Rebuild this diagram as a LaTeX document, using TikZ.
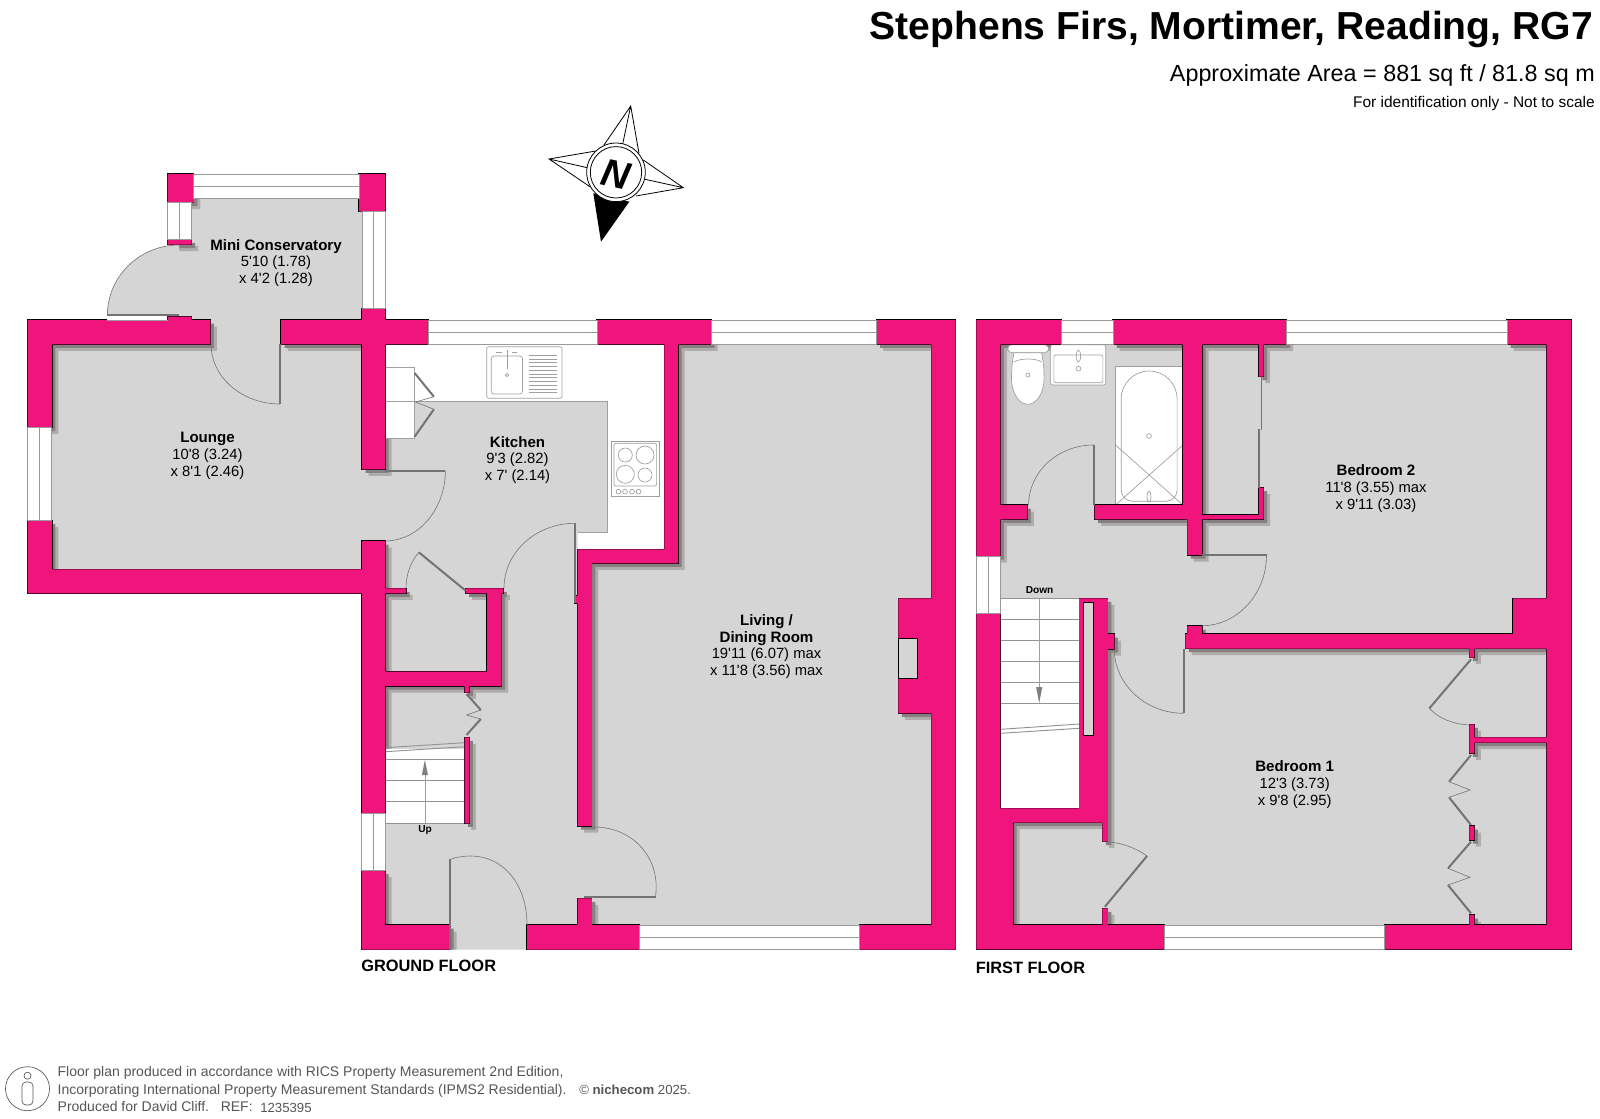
\documentclass[tikz,border=0pt]{standalone}
\usepackage{fontspec}
\usepackage{tikz}
\newfontfamily\planfont{Liberation Sans}
\definecolor{wallpink}{RGB}{240,20,125}
\definecolor{floorgrey}{RGB}{213,213,213}
\definecolor{shadegrey}{RGB}{135,128,128}
\definecolor{softgrey}{RGB}{175,172,172}
\definecolor{footgrey}{RGB}{85,85,85}
\newcommand{\roomfont}{\planfont\fontsize{11.1}{12.55}\selectfont}
\newcommand{\roomname}[1]{{\fontsize{11.3}{12.55}\selectfont\bfseries #1}}
\tikzstyle{roomlabel}=[align=center,inner sep=0pt,font=\roomfont]
\tikzstyle{smalllabel}=[inner sep=0pt,font=\planfont\bfseries\fontsize{7.6}{9}\selectfont]
\tikzstyle{floorlabel}=[inner sep=0pt,anchor=base west,font=\planfont\bfseries\fontsize{12.3}{14}\selectfont]
\tikzstyle{footlabel}=[inner sep=0pt,anchor=base west,text=footgrey,font=\planfont\fontsize{10.5}{12}\selectfont]
\tikzstyle{footsmall}=[inner sep=0pt,anchor=base west,text=footgrey,font=\planfont\fontsize{9.9}{12}\selectfont]
\tikzstyle{winbox}=[draw=gray!80,fill=white,line width=0.7pt]
\tikzstyle{winmid}=[draw=gray!80,line width=0.7pt]
\tikzstyle{leaf}=[draw=gray!90!black,line width=1.5pt]
\tikzstyle{swing}=[draw=gray!90!black,line width=0.45pt]
\tikzstyle{fitting}=[draw=gray!75,line width=0.5pt]
\tikzstyle{tread}=[draw=gray!85,line width=0.7pt]
\newcommand{\floorrects}{
  (191.5,198.3) rectangle (362,320) (167.6,244.7) rectangle (191.5,316.7)
  (210,320) rectangle (281,344.3) (51.9,344.3) rectangle (362,569.3)
  (362,469) rectangle (385,541) (385,344.3) rectangle (664.4,549.3)
  (385,541) rectangle (577.6,925) (574,826) rectangle (591.8,925)
  (591.8,344.3) rectangle (931.4,925) (450,925) rectangle (527,949.7)
  (1000.4,344.3) rectangle (1546.5,925)
}
\newcommand{\wallrects}{
  (27.5,320) rectangle (210.3,344.3) (27.5,344.3) rectangle (51.9,427.7)
  (27.5,520.7) rectangle (51.9,593.3) (27.5,569.3) rectangle (385,593.3)
  (167.6,316.7) rectangle (191.5,320) (281,320) rectangle (428.8,344.3)
  (362,308.7) rectangle (385,469.3) (362,541) rectangle (385,813.3)
  (597,320) rectangle (711,344.3) (876.5,320) rectangle (955.5,344.3)
  (931.4,320) rectangle (955.5,949.7) (664.4,344.3) rectangle (678,563.3)
  (577.6,549.3) rectangle (678,563.3) (577.6,549.3) rectangle (591.8,826)
  (574.7,596) rectangle (577.6,603) (385,588.3) rectangle (406,593.3)
  (465.7,588.3) rectangle (503.3,593.3) (487,588.3) rectangle (501.6,686)
  (385,671.7) rectangle (501.6,686) (464.5,686) rectangle (469.4,692.7)
  (464.5,737.3) rectangle (469.4,823.3) (361.6,870.7) rectangle (385,949.7)
  (361.6,925) rectangle (450,949.7) (527,925) rectangle (639.2,949.7)
  (859.6,925) rectangle (955.5,949.7) (577.6,898.3) rectangle (591.8,925)
  (898.4,598.3) rectangle (931.4,713.3) (167.6,174) rectangle (193.8,202.7)
  (359,174) rectangle (385,211.7) (167.6,239.3) rectangle (191.5,244.7)
  (976.3,320) rectangle (1061.2,344.3) (1113,320) rectangle (1286.5,344.3)
  (1507,320) rectangle (1571,344.3) (976.3,320) rectangle (1000.4,556)
  (976.3,613.3) rectangle (1000.4,949.3) (976.3,808.3) rectangle (1013,949.3)
  (1546.5,320) rectangle (1571,949.3) (1182.9,344.3) rectangle (1202,505)
  (1187.3,505) rectangle (1202,555) (1094.7,505) rectangle (1187.3,519.3)
  (1202,515) rectangle (1263.7,519.3) (1258.8,344.3) rectangle (1263.7,376.7)
  (1258.8,487.7) rectangle (1263.7,519.3) (1000.4,505) rectangle (1027.3,519.3)
  (1513,598.3) rectangle (1571,634) (1185.3,634) rectangle (1571,648.7)
  (1187.3,626) rectangle (1202,634) (1079.2,598.3) rectangle (1107.8,808.3)
  (1107.8,634) rectangle (1114.3,649) (1000.4,808.3) rectangle (1107.8,822.7)
  (1102.4,822.7) rectangle (1107.8,841.7) (1102.4,908.3) rectangle (1107.8,925)
  (976.3,925) rectangle (1164,949.3) (1384.5,925) rectangle (1571,949.3)
  (1469.4,648.7) rectangle (1474.3,657.7) (1469.4,724.3) rectangle (1474.3,753.3)
  (1474.3,737.3) rectangle (1546.5,742.7) (1469.4,826) rectangle (1474.3,840)
  (1469.4,915) rectangle (1474.3,925)
}
\newcommand{\doorswing}[6]{
  \draw[leaf] (#1,#2) -- (#3,#4);
  \draw[swing] (#3,#4) .. controls ({#3+.55*(#5-#1)},{#4+.55*(#6-#2)}) and ({#5+.55*(#3-#1)},{#6+.55*(#4-#2)}) .. (#5,#6);
}
\begin{document}
\begin{tikzpicture}[x=0.75pt,y=-0.75pt]
\useasboundingbox (0,0) rectangle (1600,1118);

\fill[floorgrey] \floorrects;
\begin{scope}
  \clip \floorrects;
  \fill[softgrey,shift={(6.5,6.5)}] \wallrects;
  \fill[shadegrey,shift={(3.5,3.5)}] \wallrects;
\end{scope}

\fill[white] (385,344.3) rectangle (664.4,401.7) (607,344.3) rectangle (664.4,549.3)
  (577.6,532) rectangle (664.4,549.3) (385,344.3) rectangle (414.6,438.3);
\draw[fitting] (385,401.7) -- (607,401.7) -- (607,532) -- (577.6,532);
\draw[fitting] (385,367.3) -- (414.6,367.3) -- (414.6,438.3) -- (385,438.3);

\draw[fitting,rounded corners=1.5] (486.7,346.7) rectangle (562,398.3);
\draw[fitting,rounded corners=2] (491.3,356) rectangle (522.5,394);
\foreach \drainy in {355.3,359,362.8,366.5,370.3,374,377.8,381.5,385.2,389,392.7}
  \draw[fitting] (529,\drainy) -- (557.4,\drainy);
\draw[fitting] (507,350) -- (507,369) (496,352) -- (502,352) (512,352) -- (517,352);
\draw[fitting] (507,375) circle [radius=1.6];
\draw[fitting] (611.6,441) rectangle (659.8,496.7);
\draw[fitting,rounded corners=1.5] (614,443.3) rectangle (656.6,486);
\foreach \hobx/\hoby/\hobr in {625.3/455/7,645/455/9,625.3/474.3/9,645/475/7}
  \draw[fitting] (\hobx,\hoby) circle [radius=\hobr];
\foreach \knobx in {618.5,625,632,638.5}
  \draw[fitting] (\knobx,491.7) circle [radius=2.4];

\fill[white] (385,748.5) rectangle (464.5,823.3);
\draw[tread] (385,759.3) -- (464.5,759.3) (385,780.3) -- (464.5,780.3) (385,801.7) -- (464.5,801.7) (385,823.3) -- (464.5,823.3);
\draw[tread] (385,747.7) -- (464.5,742.7) (385,751.7) -- (464.5,746.7);
\draw[fitting] (424.9,823.3) -- (424.9,765);
\fill[gray] (424.9,760) -- (428,775) -- (421.8,775) -- cycle;

\fill[white] (1000.4,598.3) rectangle (1079.2,808.3);
\foreach \tready in {598.3,619,640.7,661.3,682.3,703}
  \draw[tread] (1000.4,\tready) -- (1079.2,\tready);
\draw[tread] (1000.8,729.3) -- (1079.2,724) (1000.8,733.3) -- (1079.2,728.3);
\draw[fitting] (1039.2,598.3) -- (1039.2,695);
\fill[gray] (1039.2,703) -- (1042.3,687) -- (1036.1,687) -- cycle;

\draw[fitting,fill=white,rounded corners=3] (1007.8,344.7) rectangle (1048.6,352.7);
\draw[fitting,fill=white] (1011.5,378) .. controls (1011.5,366) and (1013,358) .. (1014,352.7) -- (1041.6,352.7) .. controls (1042.6,358) and (1044.1,366) .. (1044.1,378) .. controls (1044.1,394) and (1036,404.3) .. (1027.8,404.3) .. controls (1019.6,404.3) and (1011.5,394) .. (1011.5,378) -- cycle;
\draw[fitting] (1014,362) .. controls (1020,358) and (1036,358) .. (1041.6,362);
\draw[fitting] (1027.8,375) circle [radius=2];
\draw[fitting,fill=white,rounded corners=1.5] (1050.6,344.7) rectangle (1105.7,385);
\draw[fitting,rounded corners=1.5] (1053.9,355) rectangle (1102.9,382.7);
\draw[fitting] (1078.4,368.7) circle [radius=2.4] (1078.4,356) ellipse [x radius=2.2,y radius=6];
\draw[fitting,fill=white] (1115.5,366) rectangle (1182.9,505);
\draw[fitting] (1121.2,490) -- (1121.2,399) arc [start angle=180,end angle=360,x radius=27.95,y radius=28] -- (1177.1,490)
  arc [start angle=0,end angle=90,radius=11.3] -- (1132.5,501.3) arc [start angle=90,end angle=180,radius=11.3];
\draw[fitting] (1115.5,445) -- (1182.9,505) (1182.9,445) -- (1115.5,505);
\draw[fitting] (1149,436) circle [radius=2.4] (1149,496.7) ellipse [x radius=2,y radius=5.5];

\path[draw=black,line width=1pt] \wallrects;
\fill[wallpink] \wallrects;
\draw[fill=floorgrey,draw=black,line width=0.6pt] (898.4,638.3) rectangle (917,678.3);
\draw[fill=floorgrey,draw=black,line width=0.6pt] (1083.7,602.7) rectangle (1093.5,735.7);

\foreach \wxa/\wya/\wxb/\wyb in {193.8/174/359/198.3,428.8/320/597/344.3,711/320/876.5/344.3,639.2/925/859.6/949.7,1061.2/320/1113/344.3,1286.5/320/1507/344.3,1164/925/1384.5/949.3} {
  \draw[winbox] (\wxa,\wya) rectangle (\wxb,\wyb);
  \draw[winmid] (\wxa,{(\wya+\wyb)/2}) -- (\wxb,{(\wya+\wyb)/2});
}
\foreach \wxa/\wya/\wxb/\wyb in {362/211.7/385/308.7,167.6/202.7/191.5/239.3,27.5/427.7/51.9/520.7,361.6/813.3/385/870.7,976.3/556/1000.4/613.3} {
  \draw[winbox] (\wxa,\wya) rectangle (\wxb,\wyb);
  \draw[winmid] ({(\wxa+\wxb)/2},\wya) -- ({(\wxa+\wxb)/2},\wyb);
}
\fill[white] (107.4,316.5) rectangle (167,320);
\draw[gray!80,line width=0.7pt] (107.4,320) -- (167.6,320);

\fill[floorgrey] (107.4,315) .. controls (107.4,276) and (140,245) .. (179,245) -- (179,315) -- cycle;
\doorswing{179}{315}{107.4}{315}{179}{245}
\doorswing{280}{344.3}{280}{404}{211}{344.3}
\doorswing{385}{470.7}{445.4}{470.7}{385}{541}
\doorswing{574.7}{588}{574.7}{523.3}{504}{588}
\doorswing{450.2}{949.7}{450.2}{859.3}{527}{925}
\doorswing{584}{896.7}{655.5}{896.7}{594}{827}
\doorswing{1093.5}{505}{1093.5}{445}{1028.6}{505}
\doorswing{1202}{555}{1266.5}{555}{1202}{625.7}
\doorswing{1183.7}{649}{1183.7}{713.3}{1114.3}{649}
\draw[leaf] (465.7,590.7) -- (418.8,552.3);
\draw[swing] (418.8,552.3) .. controls (410,563) and (406,575) .. (406,588.3);
\draw[leaf] (1104.9,906.7) -- (1147,856);
\draw[swing] (1147,856) .. controls (1136,848) and (1122,843) .. (1107.8,841.7);
\draw[leaf] (1471,659.3) -- (1429.4,708.3);
\draw[swing] (1429.4,708.3) .. controls (1438,718) and (1452,724) .. (1469.4,725);
\foreach \fya/\fyb/\fyc/\fyd/\fye/\fxm/\fxe in {755/781.7/790/797.3/825/1449/1470.2,841.7/868.3/877.3/885/913.3/1448/1470} {
  \draw[leaf] (1471,\fya) -- (\fxm,\fyb);
  \draw[leaf] (\fxm,\fyd) -- (1471,\fye);
  \draw[swing] (\fxm,\fyb) -- (\fxe,\fyc) -- (\fxm,\fyd);
}
\draw[leaf] (414.6,373) -- (433.9,396.7);
\draw[swing] (433.9,396.7) -- (415.5,402);
\draw[leaf] (414.6,436.7) -- (433.9,409.3);
\draw[swing] (433.9,409.3) -- (415.5,402);
\draw[leaf] (466.5,694) -- (480.8,710);
\draw[swing] (480.8,710) -- (466.5,715);
\draw[leaf] (466.5,735) -- (480.8,719);
\draw[swing] (480.8,719) -- (466.5,715);
\draw[gray!90!black,line width=1pt] (1261.5,376.7) -- (1261.5,430) (1259,429) -- (1259,487.7);
\draw[leaf] (574.7,588) -- (574.7,603);

\fill[black] (593.3,193.3) -- (601,241.7) -- (629.3,201.7) -- cycle;
\foreach \ptx/\pty/\pax/\pay/\pmx/\pmy/\pbx/\pby in {630.7/106/604/145/622.7/144/639/153.3,549/159/595.7/151/587.3/167.7/590/186.7,683.3/187.7/643.3/160/645/179.3/636/196}
  \draw[black,line width=0.6pt,fill=white] (\pax,\pay) -- (\ptx,\pty) -- (\pbx,\pby) (\ptx,\pty) -- (\pmx,\pmy) (\pax,\pay) -- (\ptx,\pty);
\draw[black,line width=0.6pt,fill=white] (616,172.3) circle [radius=29.3];
\draw[black,line width=0.6pt] (616,172.3) circle [radius=25.7];
\node[inner sep=0pt,rotate=-12,font=\planfont\bfseries\itshape\fontsize{29}{30}\selectfont] (northmark) at (616,174) {N};

\node[roomlabel] (miniconservatory) at (276,263) {\roomname{Mini Conservatory}\\5'10 (1.78)\\x 4'2 (1.28)};
\node[roomlabel] (lounge) at (207.5,456) {\roomname{Lounge}\\10'8 (3.24)\\x 8'1 (2.46)};
\node[roomlabel] (kitchen) at (517.5,460) {\roomname{Kitchen}\\9'3 (2.82)\\x 7' (2.14)};
\node[roomlabel] (livingroom) at (766.5,646.5) {\roomname{Living /}\\\roomname{Dining Room}\\19'11 (6.07) max\\x 11'8 (3.56) max};
\node[roomlabel] (bedroomtwo) at (1376,488.7) {\roomname{Bedroom 2}\\11'8 (3.55) max\\x 9'11 (3.03)};
\node[roomlabel] (bedroomone) at (1294.7,784.5) {\roomname{Bedroom 1}\\12'3 (3.73)\\x 9'8 (2.95)};
\node[smalllabel] (uplabel) at (425,830) {Up};
\node[smalllabel] (downlabel) at (1039.6,590) {Down};
\node[floorlabel] (groundfloor) at (361,971.7) {GROUND FLOOR};
\node[floorlabel] (firstfloor) at (975.5,973.3) {FIRST FLOOR};

\node[inner sep=0pt,anchor=base east,font=\planfont\bfseries\fontsize{29.3}{32}\selectfont] (titletext) at (1593,39.3) {Stephens Firs, Mortimer, Reading, RG7};
\node[inner sep=0pt,anchor=base east,font=\planfont\fontsize{17.5}{20}\selectfont] (areatext) at (1595,81.7) {Approximate Area = 881 sq ft / 81.8 sq m};
\node[inner sep=0pt,anchor=base east,font=\planfont\fontsize{11.6}{13}\selectfont] (scaletext) at (1595,107) {For identification only - Not to scale};

\node[footlabel] (footone) at (57.4,1076.7) {Floor plan produced in accordance with RICS Property Measurement 2nd Edition,};
\node[footlabel] (foottwo) at (57.4,1094.3) {Incorporating International Property Measurement Standards (IPMS2 Residential).};
\node[footlabel] (footthree) at (57.4,1111) {Produced for David Cliff.\ \ \ REF:};
\node[footsmall] (footref) at (260,1112) {1235395};
\node[footsmall] (footcopy) at (579,1094.3) {© {\bfseries nichecom} 2025.};
\draw[footgrey,line width=0.5pt] (27.5,1088.7) ellipse [x radius=22,y radius=22];
\draw[footgrey,line width=0.5pt] (27.5,1075.7) circle [radius=3.5];
\draw[footgrey,line width=0.5pt,rounded corners=3] (22,1105) -- (22,1082) -- (33,1082) -- (33,1105) -- cycle;
\end{tikzpicture}
\end{document}
